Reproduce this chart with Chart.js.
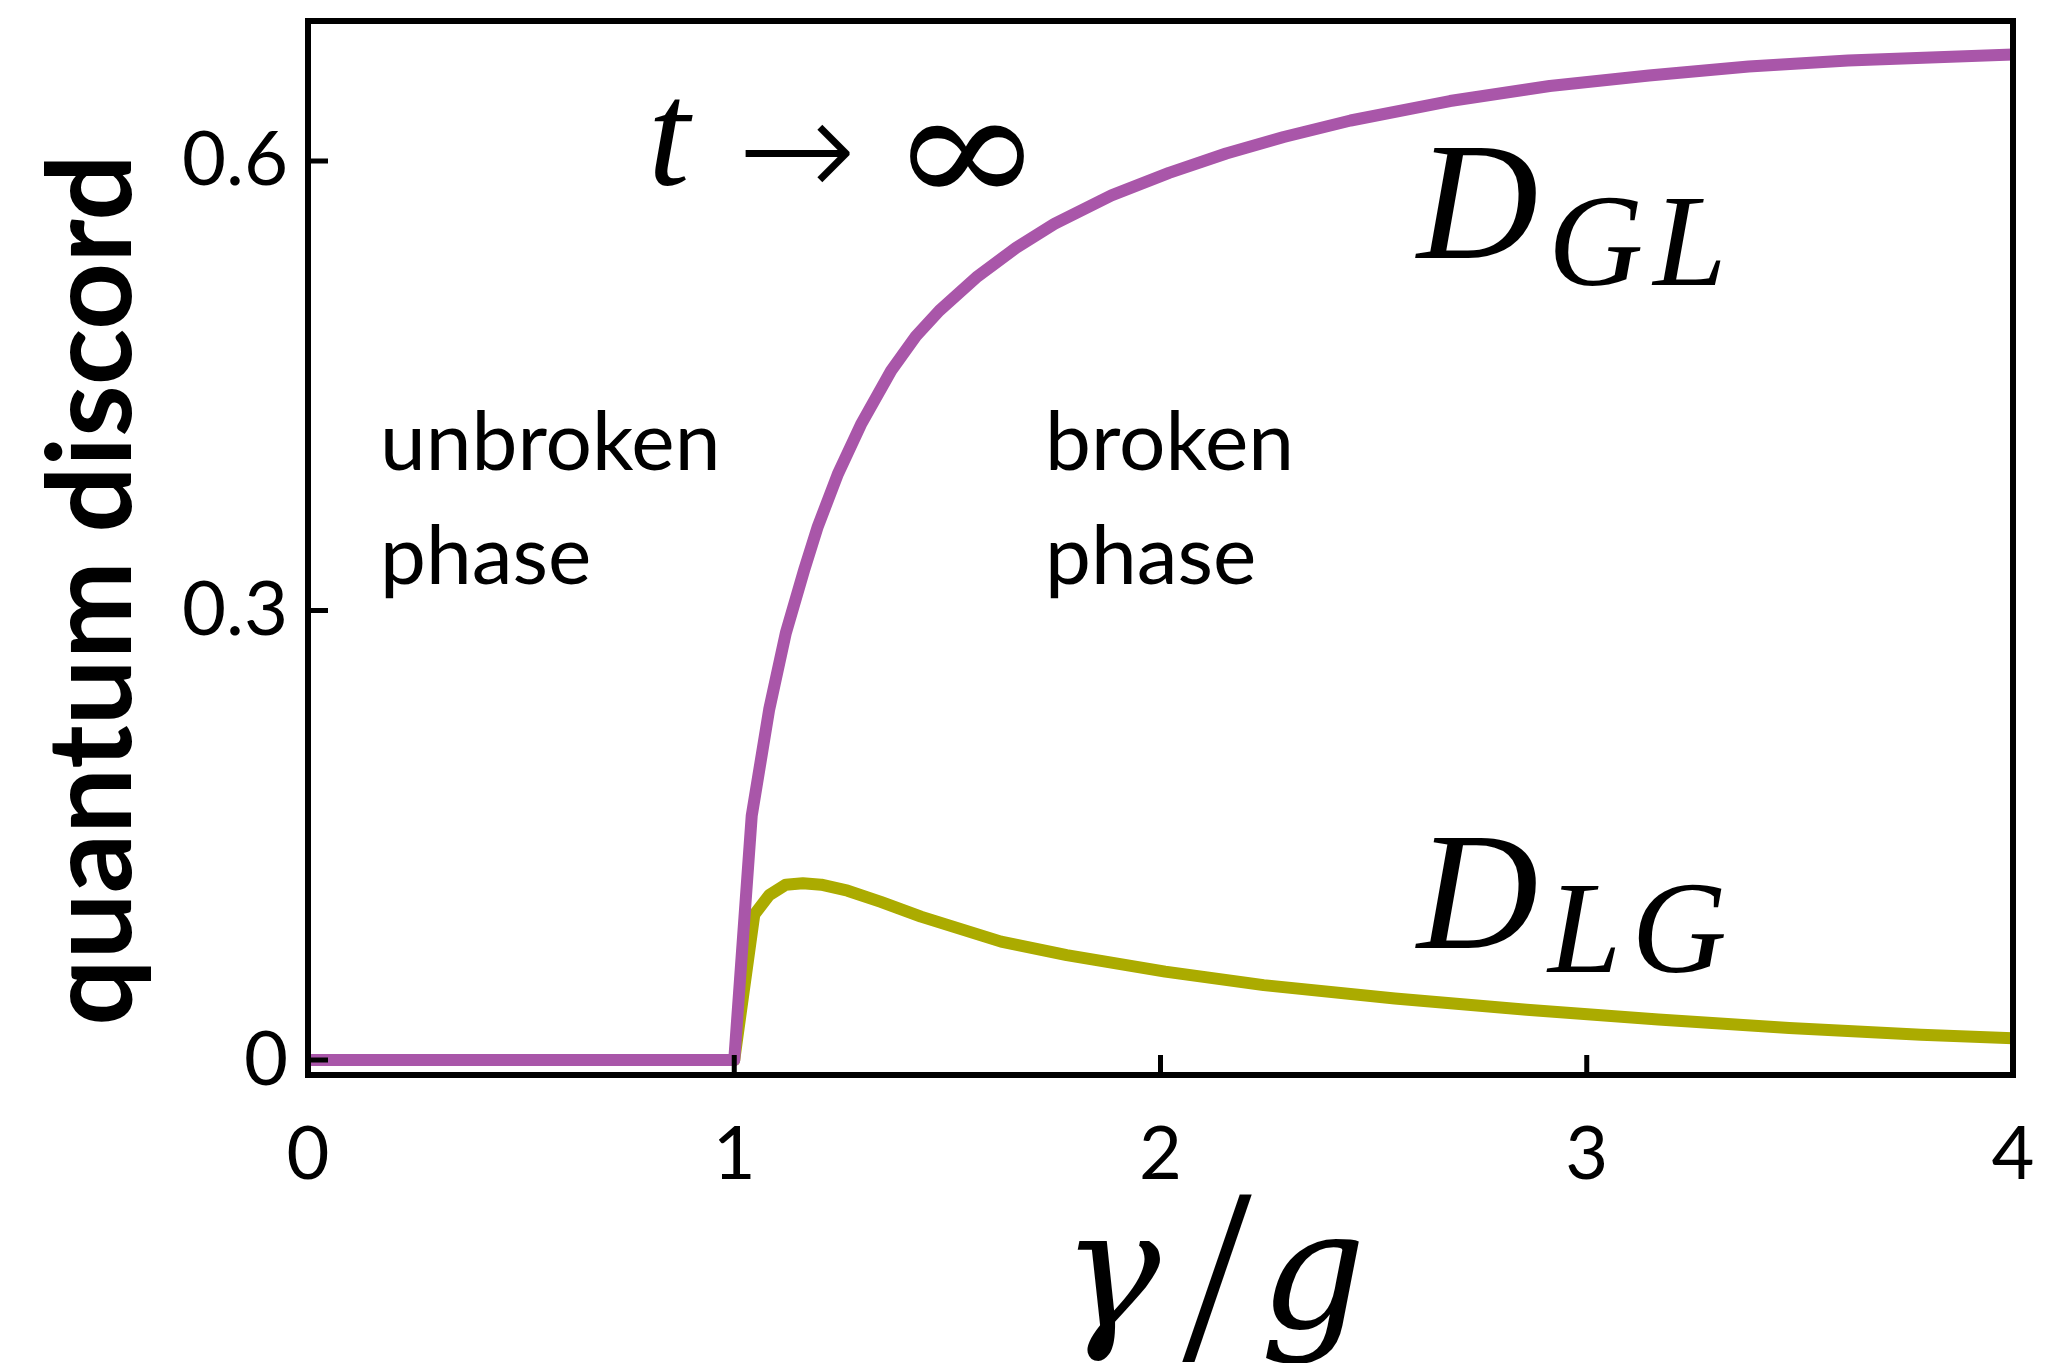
<!DOCTYPE html>
<html>
<head>
<meta charset="utf-8">
<script src="https://cdn.jsdelivr.net/npm/chart.js@4.4.1/dist/chart.umd.min.js"></script>
<style>
  html, body { margin: 0; padding: 0; background: #fff; }
  #wrap { width: 2049px; height: 1363px; position: relative; }
</style>
</head>
<body>
<div id="wrap"><canvas id="discordChart"></canvas></div>
<script>
// steady-state discord vs gamma/g
const gammaGL = [0, 1.0, 1.041, 1.082, 1.121, 1.164, 1.196, 1.243, 1.297, 1.368, 1.426, 1.481, 1.571, 1.661, 1.751, 1.885, 2.02, 2.154, 2.289, 2.446, 2.679, 2.913, 3.146, 3.38, 3.613, 4.0];
const discordGL = [0, 0, 0.163, 0.234, 0.285, 0.327, 0.356, 0.391, 0.424, 0.460, 0.483, 0.500, 0.523, 0.542, 0.558, 0.577, 0.592, 0.605, 0.616, 0.627, 0.640, 0.650, 0.657, 0.663, 0.667, 0.671];

const gammaLG = [0, 1.0, 1.047, 1.082, 1.121, 1.161, 1.204, 1.266, 1.344, 1.438, 1.626, 1.78, 2.011, 2.242, 2.55, 2.859, 3.168, 3.475, 3.784, 4.0];
const discordLG = [0, 0, 0.097, 0.110, 0.117, 0.118, 0.117, 0.113, 0.1055, 0.0957, 0.079, 0.070, 0.059, 0.050, 0.041, 0.0336, 0.027, 0.0213, 0.0168, 0.0146];

const xTicks = [0, 1, 2, 3, 4];
const yTicks = [0, 0.3, 0.6];
const yTickLabels = ['0', '0.3', '0.6'];

const purple = '#a956a9';
const olive = '#abab00';

const toPoints = (xs, ys) => xs.map((x, i) => ({ x, y: ys[i] }));

// pin an axis to a fixed size and drop the label overhang padding
const fixSize = (prop, size) => s => {
  s[prop] = size;
  s.paddingTop = s.paddingBottom = s.paddingLeft = s.paddingRight = 0;
};

// box frame plus inward tick marks, drawn over the curves
const framePlugin = {
  id: 'frame',
  afterDatasetsDraw(chart) {
    const { ctx, chartArea: a, scales: { x, y } } = chart;
    ctx.save();
    ctx.strokeStyle = '#000';
    ctx.lineWidth = 6;
    ctx.strokeRect(a.left, a.top, a.right - a.left, a.bottom - a.top);
    ctx.lineWidth = 5;
    ctx.beginPath();
    xTicks.forEach(v => {
      const px = x.getPixelForValue(v);
      ctx.moveTo(px, a.bottom);
      ctx.lineTo(px, a.bottom - 20);
    });
    yTicks.forEach(v => {
      const py = y.getPixelForValue(v);
      ctx.moveTo(a.left, py);
      ctx.lineTo(a.left + 20, py);
    });
    ctx.stroke();
    ctx.restore();
  }
};

// axis titles and in-plot annotations
const textPlugin = {
  id: 'labels',
  afterDraw(chart) {
    const ctx = chart.ctx;
    ctx.save();
    ctx.fillStyle = '#000';
    ctx.textBaseline = 'alphabetic';

    ctx.save();
    ctx.translate(131, 590);
    ctx.rotate(-Math.PI / 2);
    ctx.font = 'bold 117px Lato';
    ctx.textAlign = 'center';
    ctx.fillText('quantum discord', 0, 0);
    ctx.restore();

    // gamma / g
    ctx.textAlign = 'center';
    ctx.font = 'italic 165px "DejaVu Serif"';
    ctx.fillText('γ', 1111, 1327);
    ctx.fillText('g', 1313, 1327);
    ctx.font = '250px "Liberation Serif"';
    ctx.fillText('/', 1217, 1360);

    // t -> infinity
    ctx.textAlign = 'left';
    ctx.font = 'italic 150px "Liberation Serif"';
    ctx.fillText('t', 648, 185);
    ctx.textAlign = 'center';
    ctx.font = '200 142px "DejaVu Sans"';
    ctx.fillText('→', 797, 198);
    ctx.save();
    ctx.translate(967, 204);
    ctx.scale(1.15, 1);
    ctx.font = '160px "DejaVu Serif"';
    ctx.fillText('∞', 0, 0);
    ctx.restore();

    ctx.textAlign = 'left';
    ctx.font = 'italic 168px "Liberation Serif"';
    ctx.fillText('D', 1417, 258);
    ctx.fillText('D', 1417, 948);
    ctx.font = 'italic 132px "Liberation Serif"';
    ctx.letterSpacing = '10px';
    ctx.fillText('GL', 1548, 285);
    ctx.fillText('LG', 1548, 972);
    ctx.letterSpacing = '0px';

    ctx.font = '82px Lato';
    ctx.fillText('unbroken', 380, 470);
    ctx.fillText('phase', 380, 584);
    ctx.fillText('broken', 1045, 470);
    ctx.fillText('phase', 1045, 584);
    ctx.restore();
  }
};

new Chart(document.getElementById('discordChart'), {
  type: 'line',
  data: {
    datasets: [
      { label: 'D_GL', data: toPoints(gammaGL, discordGL), borderColor: purple, borderWidth: 12, pointRadius: 0, order: 0, borderJoinStyle: 'round' },
      { label: 'D_LG', data: toPoints(gammaLG, discordLG), borderColor: olive, borderWidth: 12, pointRadius: 0, order: 1, borderJoinStyle: 'round' }
    ]
  },
  options: {
    responsive: true,
    maintainAspectRatio: false,
    animation: false,
    layout: { padding: { top: 21, right: 36, left: 0, bottom: 0 } },
    plugins: { legend: { display: false }, tooltip: { enabled: false } },
    scales: {
      x: {
        type: 'linear',
        min: 0,
        max: 4,
        afterBuildTicks: s => { s.ticks = xTicks.map(v => ({ value: v })); },
        afterFit: fixSize('height', 288),
        grid: { display: false, drawTicks: false },
        border: { display: false },
        ticks: { color: '#000', font: { family: 'Lato', size: 74 }, padding: 36, maxRotation: 0 }
      },
      y: {
        type: 'linear',
        min: -0.010,
        max: 0.6934,
        afterBuildTicks: s => { s.ticks = yTicks.map(v => ({ value: v })); },
        afterFit: fixSize('width', 308),
        grid: { display: false, drawTicks: false },
        border: { display: false },
        ticks: {
          color: '#000',
          font: { family: 'Lato', size: 76 },
          padding: 20,
          callback: v => yTickLabels[yTicks.indexOf(v)]
        }
      }
    }
  },
  plugins: [framePlugin, textPlugin]
});
</script>
</body>
</html>
